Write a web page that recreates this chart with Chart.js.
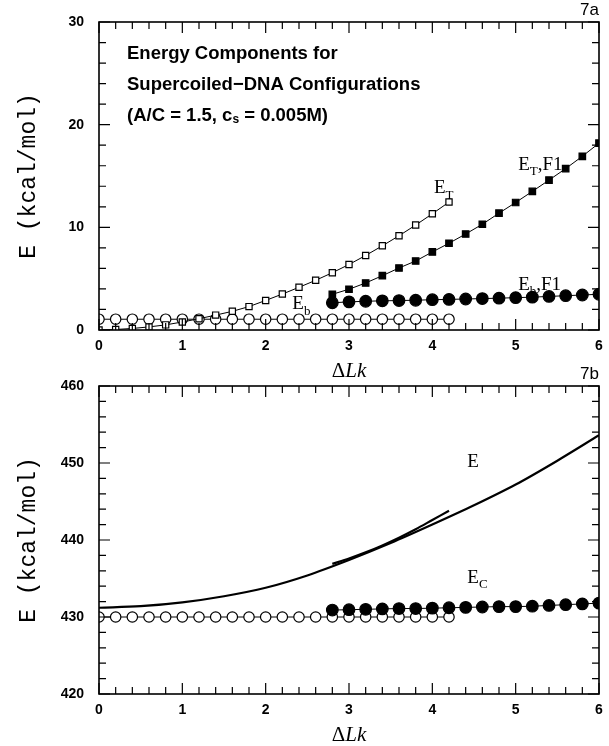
<!DOCTYPE html>
<html>
<head>
<meta charset="utf-8">
<script src="https://cdn.jsdelivr.net/npm/chart.js@4.4.1/dist/chart.umd.min.js"></script>
<style>
  body { margin: 0; background: #fff; }
  #wrap { position: relative; width: 609px; height: 746px; }
  canvas { position: absolute; left: 0; }
</style>
</head>
<body>
<div id="wrap">
  <canvas id="c7a" width="609" height="384" style="top:0px"></canvas>
  <canvas id="c7b" width="609" height="386" style="top:360px"></canvas>
</div>
<script>
// ---- data ----
var lkOpen = [0, 0.2, 0.4, 0.6, 0.8, 1.0, 1.2, 1.4, 1.6, 1.8, 2.0, 2.2, 2.4, 2.6, 2.8, 3.0, 3.2, 3.4, 3.6, 3.8, 4.0, 4.2];
var lkF1 = [2.8, 3.0, 3.2, 3.4, 3.6, 3.8, 4.0, 4.2, 4.4, 4.6, 4.8, 5.0, 5.2, 5.4, 5.6, 5.8, 6.0];

// 7a
var eT = [0, 0.05, 0.15, 0.3, 0.5, 0.78, 1.1, 1.45, 1.82, 2.28, 2.88, 3.5, 4.16, 4.84, 5.58, 6.38, 7.26, 8.2, 9.18, 10.22, 11.32, 12.46];
var eb = [1.05, 1.05, 1.05, 1.05, 1.05, 1.05, 1.05, 1.05, 1.05, 1.05, 1.05, 1.05, 1.05, 1.05, 1.05, 1.05, 1.05, 1.05, 1.05, 1.05, 1.05, 1.05];
var eTF1 = [3.48, 3.97, 4.58, 5.29, 6.04, 6.72, 7.6, 8.45, 9.35, 10.3, 11.38, 12.42, 13.5, 14.6, 15.72, 16.92, 18.2];
var ebF1 = [2.65, 2.74, 2.8, 2.84, 2.87, 2.9, 2.95, 2.98, 3.02, 3.06, 3.1, 3.15, 3.2, 3.27, 3.34, 3.41, 3.48];

// 7b
var lkCurve = [0, 0.5, 1.0, 1.5, 2.0, 2.5, 3.0, 3.5, 4.0, 4.5, 5.0, 5.5, 6.0];
var eTotal = [431.2, 431.4, 431.9, 432.7, 433.8, 435.4, 437.4, 439.6, 442.0, 444.5, 447.2, 450.3, 453.6];
var lkF1Short = [2.8, 3.0, 3.2, 3.4, 3.6, 3.8, 4.0, 4.2];
var eF1 = [436.9, 437.6, 438.4, 439.3, 440.3, 441.4, 442.6, 443.8];
var ec = [430, 430, 430, 430, 430, 430, 430, 430, 430, 430, 430, 430, 430, 430, 430, 430, 430, 430, 430, 430, 430, 430];
var ecF1 = [430.9, 430.95, 431.0, 431.05, 431.1, 431.1, 431.15, 431.2, 431.25, 431.3, 431.35, 431.35, 431.4, 431.5, 431.6, 431.7, 431.8];

var xTicks = [0, 1, 2, 3, 4, 5, 6];
var X_MINOR = 0.2;
var Y_MINOR = 2;

function pairs(xs, ys) {
    return xs.map(function (x, i) { return {x: x, y: ys[i]}; });
}

function markerSet(xs, ys, style, filled, radius) {
    return {
        data: pairs(xs, ys),
        borderColor: '#000',
        borderWidth: 1,
        pointStyle: style,
        pointRadius: radius,
        pointBorderColor: '#000',
        pointBorderWidth: 1.2,
        pointBackgroundColor: filled ? '#000' : '#fff',
        showLine: true,
        tension: 0
    };
}

// label like E_T,F1 : main text, subscript, rest
function subLabel(ctx, x, y, main, sub, rest, size) {
    ctx.textBaseline = 'alphabetic';
    ctx.textAlign = 'left';
    ctx.font = size + 'px "Liberation Serif"';
    ctx.fillText(main, x, y);
    x += ctx.measureText(main).width;
    ctx.font = Math.round(size * 0.68) + 'px "Liberation Serif"';
    ctx.fillText(sub, x, y + size * 0.28);
    x += ctx.measureText(sub).width;
    if (rest) {
        ctx.font = size + 'px "Liberation Serif"';
        ctx.fillText(rest, x, y);
    }
}

function deltaLk(ctx, cx, cy) {
    ctx.textBaseline = 'middle';
    ctx.textAlign = 'left';
    ctx.font = '21px "Liberation Serif"';
    var w1 = ctx.measureText('\u0394').width;
    ctx.font = 'italic 21px "Liberation Serif"';
    var w2 = ctx.measureText('Lk').width;
    var x0 = cx - (w1 + w2) / 2;
    ctx.font = '21px "Liberation Serif"';
    ctx.fillText('\u0394', x0, cy);
    ctx.font = 'italic 21px "Liberation Serif"';
    ctx.fillText('Lk', x0 + w1, cy);
}

function framePlugin(drawText) {
    return {
        id: 'frame',
        afterDatasetsDraw: function (chart) {
            var ctx = chart.ctx, a = chart.chartArea;
            var xs = chart.scales.x, ys = chart.scales.y;
            ctx.save();
            ctx.strokeStyle = '#000';
            ctx.lineWidth = 1.2;
            ctx.beginPath();
            var n = Math.round((xs.max - xs.min) / X_MINOR);
            for (var i = 0; i <= n; i++) {
                var px = xs.getPixelForValue(xs.min + i * X_MINOR);
                var len = i % 5 === 0 ? 11 : 7;
                ctx.moveTo(px, a.bottom); ctx.lineTo(px, a.bottom - len);
                ctx.moveTo(px, a.top); ctx.lineTo(px, a.top + len);
            }
            var m = Math.round((ys.max - ys.min) / Y_MINOR);
            for (var j = 0; j <= m; j++) {
                var py = ys.getPixelForValue(ys.min + j * Y_MINOR);
                var l2 = j % 5 === 0 ? 11 : 7;
                ctx.moveTo(a.left, py); ctx.lineTo(a.left + l2, py);
                ctx.moveTo(a.right, py); ctx.lineTo(a.right - l2, py);
            }
            ctx.stroke();
            ctx.lineWidth = 1.6;
            ctx.strokeRect(a.left, a.top, a.right - a.left, a.bottom - a.top);
            ctx.fillStyle = '#000';
            drawText(ctx, xs, ys, a);
            ctx.restore();
        }
    };
}

function panelOptions(yMin, yMax, xHeight, padTop) {
    return {
        responsive: false,
        animation: false,
        events: [],
        layout: {autoPadding: false, padding: {top: padTop, right: 10, left: 0, bottom: 0}},
        plugins: {legend: {display: false}, tooltip: {enabled: false}},
        scales: {
            x: {
                type: 'linear', min: 0, max: 6,
                grid: {display: false}, border: {display: false},
                afterBuildTicks: function (s) { s.ticks = xTicks.map(function (v) { return {value: v}; }); },
                ticks: {color: '#000', padding: 0, font: {family: '"Liberation Sans"', weight: 'bold', size: 14}},
                afterFit: function (s) { s.height = xHeight; }
            },
            y: {
                type: 'linear', min: yMin, max: yMax,
                grid: {display: false}, border: {display: false},
                ticks: {stepSize: 10, color: '#000', padding: 7, font: {family: '"Liberation Sans"', weight: 'bold', size: 14}},
                title: {display: true, text: 'E (kcal/mol)', color: '#000', padding: {top: 15, bottom: 0},
                        font: {family: '"Liberation Mono"', size: 23}},
                afterFit: function (s) { s.width = 99; }
            }
        }
    };
}

// ---- 7a ----
var setsA = [
    markerSet(lkOpen, eT, 'rect', false, 4.4),
    markerSet(lkF1, eTF1, 'rect', true, 4.6),
    markerSet(lkF1, ebF1, 'circle', true, 5.8),
    markerSet(lkOpen, eb, 'circle', false, 5.2)
];

new Chart(document.getElementById('c7a'), {
    type: 'scatter',
    data: {datasets: setsA},
    options: panelOptions(0, 30, 54, 22),
    plugins: [framePlugin(function (ctx, xs, ys, a) {
        subLabel(ctx, xs.getPixelForValue(4.02), ys.getPixelForValue(13.3), 'E', 'T', '', 19);
        subLabel(ctx, xs.getPixelForValue(5.03), ys.getPixelForValue(15.6), 'E', 'T', ',F1', 19);
        subLabel(ctx, xs.getPixelForValue(5.03), ys.getPixelForValue(3.9), 'E', 'b', ',F1', 19);
        subLabel(ctx, xs.getPixelForValue(2.32), ys.getPixelForValue(2.0), 'E', 'b', '', 19);

        ctx.textAlign = 'right';
        ctx.textBaseline = 'middle';
        ctx.font = '17px "Liberation Sans"';
        ctx.fillText('7a', a.right, 10);

        ctx.textAlign = 'left';
        ctx.font = 'bold 18.5px "Liberation Sans"';
        ctx.fillText('Energy Components for', 127, 54);
        ctx.fillText('Supercoiled\u2212DNA Configurations', 127, 85);
        var t1 = '(A/C = 1.5, c';
        ctx.fillText(t1, 127, 116);
        var w = ctx.measureText(t1).width;
        ctx.font = 'bold 12px "Liberation Sans"';
        ctx.fillText('s', 127 + w, 120);
        var ws = ctx.measureText('s').width;
        ctx.font = 'bold 18.5px "Liberation Sans"';
        ctx.fillText(' = 0.005M)', 127 + w + ws, 116);

        deltaLk(ctx, (a.left + a.right) / 2, 371);
    })]
});

// ---- 7b ----
var setsB = [
    {data: pairs(lkCurve, eTotal), borderColor: '#000', borderWidth: 2.2, pointRadius: 0,
     showLine: true, cubicInterpolationMode: 'monotone'},
    {data: pairs(lkF1Short, eF1), borderColor: '#000', borderWidth: 2.2, pointRadius: 0,
     showLine: true, cubicInterpolationMode: 'monotone'},
    markerSet(lkF1, ecF1, 'circle', true, 5.8),
    markerSet(lkOpen, ec, 'circle', false, 5.2)
];

new Chart(document.getElementById('c7b'), {
    type: 'scatter',
    data: {datasets: setsB},
    options: panelOptions(420, 460, 52, 26),
    plugins: [framePlugin(function (ctx, xs, ys, a) {
        ctx.textBaseline = 'middle';
        ctx.textAlign = 'left';
        ctx.font = '19px "Liberation Serif"';
        ctx.fillText('E', xs.getPixelForValue(4.42), ys.getPixelForValue(450.1));
        subLabel(ctx, xs.getPixelForValue(4.42), ys.getPixelForValue(434.4), 'E', 'C', '', 19);

        ctx.textAlign = 'right';
        ctx.textBaseline = 'middle';
        ctx.font = '17px "Liberation Sans"';
        ctx.fillText('7b', a.right, 14);

        deltaLk(ctx, (a.left + a.right) / 2, 375);
    })]
});
</script>
</body>
</html>
